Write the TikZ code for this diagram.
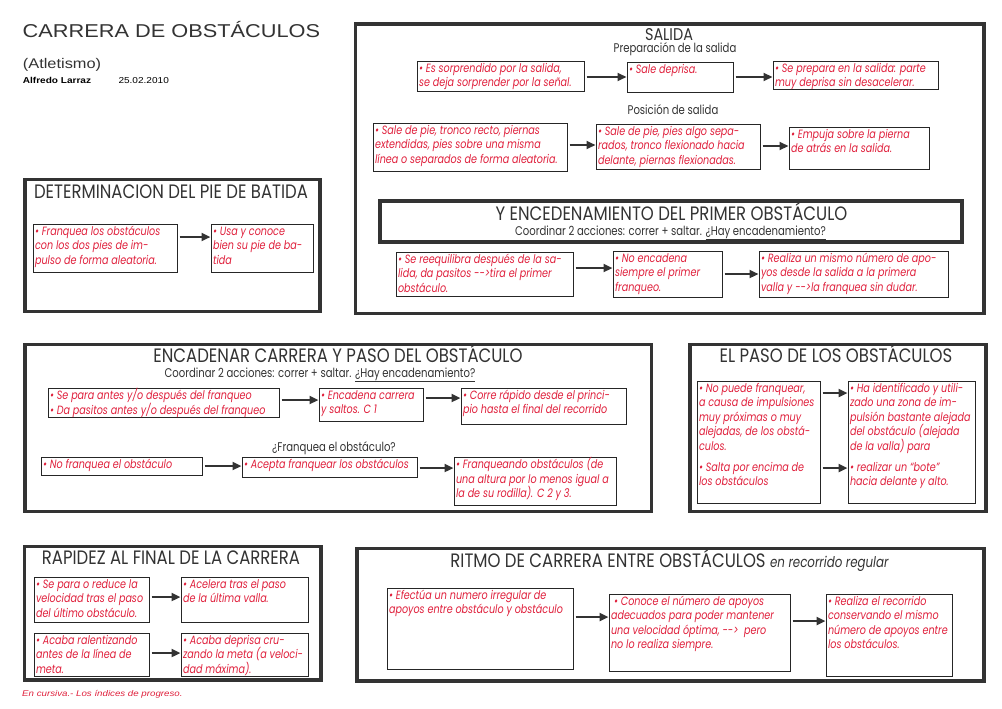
\documentclass[tikz,border=0pt]{standalone}
\usepackage{fontspec}
\setmainfont{Liberation Sans}
\newfontfamily\arialx[FakeStretch=1.17]{Liberation Sans}
\newfontfamily\futb[FakeStretch=0.8]{Poppins}
\newfontfamily\futh[FakeStretch=0.85]{Poppins}
\usetikzlibrary{arrows.meta}
\definecolor{txtred}{HTML}{E0203C}
\definecolor{frm}{HTML}{333333}
\newcommand\btx[3]{\makebox[#1][l]{\parbox[t][#2][t]{\dimexpr#1+80pt\relax}{\raggedright\rule{0pt}{10.5pt}#3}}}
\newcommand\tbox[6]{\node[tb] (#1) at (#2,#3) {\btx{\dimexpr#4pt-#2pt-3pt\relax}{\dimexpr#5pt-#3pt\relax}{#6}};}
\tikzset{
 frame/.style={draw=frm, line width=3.6pt},
 tb/.style={draw=black!85, line width=1.1pt, anchor=north west, inner xsep=1.5pt, inner ysep=0pt, text=txtred, font=\futb\itshape\fontsize{12}{14.5}\selectfont},
 arr/.style={draw=frm, line width=2.6pt, -{Triangle[length=9pt,width=8pt]}, shorten <=1.5pt, shorten >=0.5pt},
 hd/.style={anchor=base, inner sep=0pt, text=frm, font=\futh\fontsize{19.4}{22}\selectfont},
 sub/.style={anchor=base, inner sep=0pt, text=frm, font=\futb\fontsize{12.6}{14}\selectfont},
}
\begin{document}
\begin{tikzpicture}[x=1pt,y=-1pt]
\useasboundingbox (0,0) rectangle (1002,709);
\fill[white] (0,0) rectangle (1002,709);
% header
\node[anchor=base west, inner sep=0pt, text=frm, font=\arialx\fontsize{18.6}{20}\selectfont] (title) at (22.5,37.3) {CARRERA DE OBSTÁCULOS};
\node[anchor=base west, inner sep=0pt, text=frm, font=\arialx\fontsize{14}{16}\selectfont] (atl) at (22.7,68.3) {(Atletismo)};
\node[anchor=base west, inner sep=0pt, text=black, font=\arialx\bfseries\fontsize{8.6}{10}\selectfont] (auth) at (22.7,83.3) {Alfredo Larraz};
\node[anchor=base west, inner sep=0pt, text=black, font=\arialx\fontsize{8.6}{10}\selectfont] (date) at (118.3,83.3) {25.02.2010};
\node[anchor=base west, inner sep=0pt, text=txtred, font=\arialx\itshape\fontsize{8.3}{10}\selectfont] (foot) at (22,696) {En cursiva.- Los índices de progreso.};
% frames
\draw[frame] (355.5,24) rectangle (984,313.5);
\draw[frame, line width=3.3pt] (380,201) rectangle (962,242);
\draw[frame] (25,179.5) rectangle (320,311.5);
\draw[frame] (25,344.5) rectangle (651.5,511.5);
\draw[frame] (690,344.5) rectangle (986,511.5);
\draw[frame] (24.5,546.5) rectangle (321,680);
\draw[frame] (357,548.5) rectangle (984,681);
% SALIDA
\node[hd, font=\futh\fontsize{17}{18}\selectfont] (tSal) at (669,40.5) {SALIDA};
\node[sub] (tPrep) at (675,53) {Preparación de la salida};
\node[sub] (tPos) at (673,114.5) {Posición de salida};
\tbox{A1}{417}{61}{584}{91}{\textbullet\ Es sorprendido por la salida,\\ se deja sorprender por la señal.}
\tbox{A2}{627}{62}{733}{92}{\textbullet\ Sale deprisa.}
\tbox{A3}{773}{61}{938}{89}{\textbullet\ Se prepara en la salida: parte\\ muy deprisa sin desacelerar.}
\tbox{B1}{373}{123}{567}{171}{\textbullet\ Sale de pie, tronco recto, piernas\\ extendidas, pies sobre una misma\\ línea o separados de forma aleatoria.}
\tbox{B2}{596}{124}{760}{169}{\textbullet\ Sale de pie, pies algo sepa-\\ rados, tronco flexionado hacia\\ delante, piernas flexionadas.}
\tbox{B3}{789}{127}{929}{169}{\textbullet\ Empuja sobre la pierna\\ de atrás en la salida.}
\draw[arr] (A1.east |- 0,77) -- (A2.west |- 0,77);
\draw[arr] (A2.east |- 0,77) -- (A3.west |- 0,77);
\draw[arr] (B1.east |- 0,145) -- (B2.west |- 0,145);
\draw[arr] (B2.east |- 0,146) -- (B3.west |- 0,146);
% Y ENCADENAMIENTO
\node[hd] (tYE) at (671.5,220) {Y ENCEDENAMIENTO DEL PRIMER OBSTÁCULO};
\node[sub] (tCo1) at (670.5,235) {Coordinar 2 acciones: correr + saltar. \underline{¿Hay encadenamiento?}};
\tbox{C1}{396}{252}{573}{296}{\textbullet\ Se reequilibra después de la sa-\\ lida, da pasitos -{}-{}>tira el primer\\ obstáculo.}
\tbox{C2}{613}{251}{722}{297}{\textbullet\ No encadena\\ siempre el primer\\ franqueo.}
\tbox{C3}{759}{251}{948}{297}{\textbullet\ Realiza un mismo número de apo-\\ yos desde la salida a la primera\\ valla y -{}-{}>la franquea sin dudar.}
\draw[arr] (C1.east |- 0,268) -- (C2.west |- 0,268);
\draw[arr] (C2.east |- 0,274) -- (C3.west |- 0,274);
% DETERMINACION
\node[hd] (tDet) at (171,198) {DETERMINACION DEL PIE DE BATIDA};
\tbox{D1}{33}{224}{177}{272}{\textbullet\ Franquea los obstáculos\\ con los dos pies de im-\\ pulso de forma aleatoria.}
\tbox{D2}{211}{224}{313}{272}{\textbullet\ Usa y conoce\\ bien su pie de ba-\\ tida}
\draw[arr] (D1.east |- 0,237) -- (D2.west |- 0,237);
% ENCADENAR
\node[hd] (tEnc) at (338,362) {ENCADENAR CARRERA Y PASO DEL OBSTÁCULO};
\node[sub] (tCo2) at (320,377) {Coordinar 2 acciones: correr + saltar. \underline{¿Hay encadenamiento?}};
\node[sub] (tFr) at (334,451) {¿Franquea el obstáculo?};
\tbox{E1}{48}{388}{279}{417}{\textbullet\ Se para antes y/o después del franqueo\\ \textbullet\ Da pasitos antes y/o después del franqueo}
\tbox{E2}{319}{388}{423}{421}{\textbullet\ Encadena carrera\\ y saltos. C 1}
\tbox{E3}{461}{388}{626}{424}{\textbullet\ Corre rápido desde el princi-\\ pio hasta el final del recorrido}
\tbox{F1}{41}{457}{202}{475}{\textbullet\ No franquea el obstáculo}
\tbox{F2}{242}{457}{417}{477}{\textbullet\ Acepta franquear los obstáculos}
\tbox{F3}{454}{457}{616}{505}{\textbullet\ Franqueando obstáculos (de\\ una altura por lo menos igual a\\ la de su rodilla). C 2 y 3.}
\draw[arr] (E1.east |- 0,400) -- (E2.west |- 0,400);
\draw[arr] (E2.east |- 0,398) -- (E3.west |- 0,398);
\draw[arr] (F1.east |- 0,466) -- (F2.west |- 0,466);
\draw[arr] (F2.east |- 0,468) -- (F3.west |- 0,468);
% EL PASO
\node[hd] (tPaso) at (836,362) {EL PASO DE LOS OBSTÁCULOS};
\tbox{G1}{697}{381}{820}{503}{\textbullet\ No puede franquear,\\ a causa de impulsiones\\ muy próximas o muy\\ alejadas, de los obstá-\\ culos.\\[6.5pt] \textbullet\ Salta por encima de\\ los obstáculos}
\tbox{G2}{848}{381}{975}{503}{\textbullet\ Ha identificado y utili-\\ zado una zona de im-\\ pulsión bastante alejada\\ del obstáculo (alejada\\ de la valla) para\\[6.5pt] \textbullet\ realizar un “bote”\\ hacia delante y alto.}
\draw[arr] (G1.east |- 0,393) -- (G2.west |- 0,393);
\draw[arr] (G1.east |- 0,468) -- (G2.west |- 0,468);
% RAPIDEZ
\node[hd] (tRap) at (171,564) {RAPIDEZ AL FINAL DE LA CARRERA};
\tbox{H1}{34}{577}{149}{622}{\textbullet\ Se para o reduce la\\ velocidad tras el paso\\ del último obstáculo.}
\tbox{H2}{181}{577}{308}{622}{\textbullet\ Acelera tras el paso\\ de la última valla.}
\tbox{H3}{34}{633}{149}{676}{\textbullet\ Acaba ralentizando\\ antes de la línea de\\ meta.}
\tbox{H4}{181}{633}{308}{676}{\textbullet\ Acaba deprisa cru-\\ zando la meta (a veloci-\\ dad máxima).}
\draw[arr] (H1.east |- 0,597) -- (H2.west |- 0,597);
\draw[arr] (H3.east |- 0,653) -- (H4.west |- 0,653);
% RITMO
\node[hd] (tRit) at (669.5,567) {RITMO DE CARRERA ENTRE OBSTÁCULOS {\futb\itshape\fontsize{14.8}{16}\selectfont en recorrido regular}};
\tbox{I1}{387}{588}{573}{669}{\textbullet\ Efectúa un numero irregular de\\ apoyos entre obstáculo y obstáculo}
\tbox{I2}{609}{594}{790}{671}{\hspace{3pt}\textbullet\ Conoce el número de apoyos\\ adecuados para poder mantener\\ una velocidad óptima, -{}-{}>\ \ pero\\ no lo realiza siempre.}
\tbox{I3}{826}{594}{952}{676}{\textbullet\ Realiza el recorrido\\ conservando el mismo\\ número de apoyos entre\\ los obstáculos.}
\draw[arr] (I1.east |- 0,617) -- (I2.west |- 0,617);
\draw[arr] (I2.east |- 0,621) -- (I3.west |- 0,621);
\end{tikzpicture}
\end{document}
